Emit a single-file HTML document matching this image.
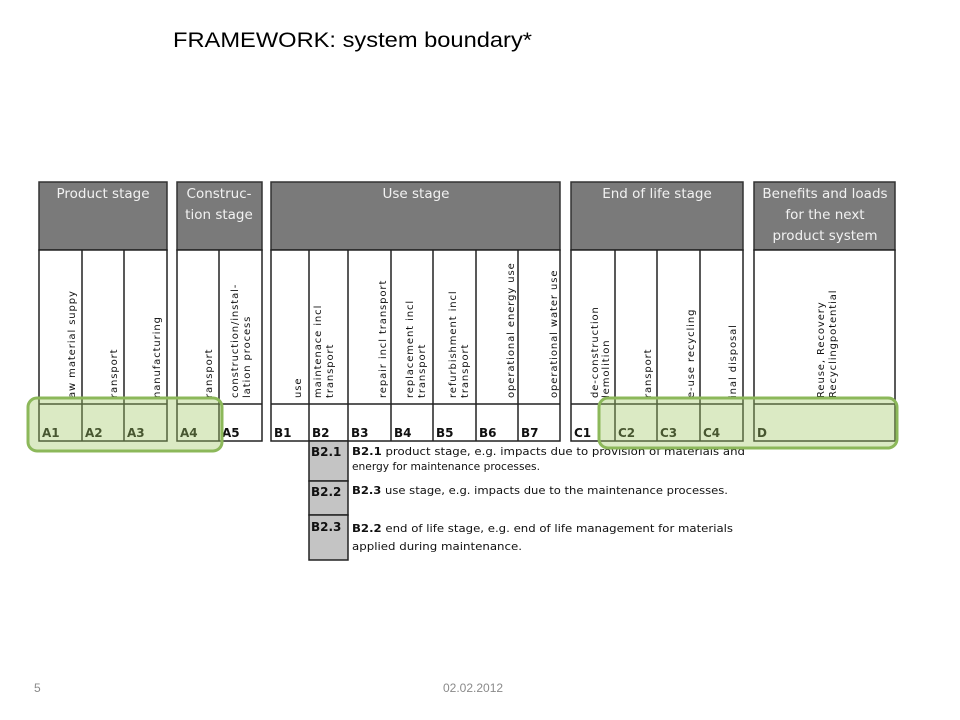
<!DOCTYPE html>
<html><head><meta charset="utf-8"><style>
html,body{margin:0;padding:0;background:#fff;}
svg{display:block;}
.v{font-family:"DejaVu Sans",sans-serif;font-size:10px;letter-spacing:0.9px;fill:#111;}
.c{font-family:"DejaVu Sans",sans-serif;font-size:12px;font-weight:bold;fill:#111;}
.h{font-family:"DejaVu Sans",sans-serif;font-size:13.5px;fill:#f2f2f2;}
.t{font-family:"DejaVu Sans",sans-serif;font-size:11px;fill:#111;}
</style></head><body>
<svg width="960" height="720" viewBox="0 0 960 720" xmlns="http://www.w3.org/2000/svg">
<text x="173" y="47" font-family="Liberation Sans,sans-serif" font-size="21" fill="#000" textLength="359" lengthAdjust="spacingAndGlyphs">FRAMEWORK: system boundary*</text>

<g fill="#7a7a7a" stroke="#333" stroke-width="1.5">
<rect x="39" y="182" width="128" height="68"/>
<rect x="177" y="182" width="85" height="68"/>
<rect x="271" y="182" width="289" height="68"/>
<rect x="571" y="182" width="172" height="68"/>
<rect x="754" y="182" width="141" height="68"/>
</g>
<g fill="#fff" stroke="#222" stroke-width="1.5">
<rect x="39" y="250" width="128" height="191"/>
<rect x="177" y="250" width="85" height="191"/>
<rect x="271" y="250" width="289" height="191"/>
<rect x="571" y="250" width="172" height="191"/>
<rect x="754" y="250" width="141" height="191"/>
</g>
<g stroke="#222" stroke-width="1.5">
<line x1="39" y1="404" x2="167" y2="404"/><line x1="177" y1="404" x2="262" y2="404"/>
<line x1="271" y1="404" x2="560" y2="404"/><line x1="571" y1="404" x2="743" y2="404"/>
<line x1="754" y1="404" x2="895" y2="404"/>
<line x1="82" y1="250" x2="82" y2="441"/><line x1="124" y1="250" x2="124" y2="441"/>
<line x1="219" y1="250" x2="219" y2="441"/>
<line x1="309" y1="250" x2="309" y2="441"/><line x1="348" y1="250" x2="348" y2="441"/>
<line x1="391" y1="250" x2="391" y2="441"/><line x1="433" y1="250" x2="433" y2="441"/>
<line x1="476" y1="250" x2="476" y2="441"/><line x1="518" y1="250" x2="518" y2="441"/>
<line x1="615" y1="250" x2="615" y2="441"/><line x1="657" y1="250" x2="657" y2="441"/>
<line x1="700" y1="250" x2="700" y2="441"/>
</g>

<text class="h" x="103" y="198" text-anchor="middle">Product stage</text>
<text class="h" x="219" y="198" text-anchor="middle">Construc-</text>
<text class="h" x="219" y="219" text-anchor="middle">tion stage</text>
<text class="h" x="416" y="198" text-anchor="middle">Use stage</text>
<text class="h" x="657" y="198" text-anchor="middle">End of life stage</text>
<text class="h" x="825" y="198" text-anchor="middle">Benefits and loads</text>
<text class="h" x="825" y="219" text-anchor="middle">for the next</text>
<text class="h" x="825" y="240" text-anchor="middle">product system</text>

<g class="v">
<text transform="translate(75,398) rotate(-90)">aw  material suppy</text>
<text transform="translate(117,398) rotate(-90)">ransport</text>
<text transform="translate(160,398) rotate(-90)">nanufacturing</text>
<text transform="translate(212,398) rotate(-90)">ransport</text>
<text transform="translate(238,398) rotate(-90)">construction/instal-</text>
<text transform="translate(250,398) rotate(-90)">lation process</text>
<text transform="translate(301,398) rotate(-90)">use</text>
<text transform="translate(321,398) rotate(-90)">maintenace incl</text>
<text transform="translate(333,398) rotate(-90)">transport</text>
<text transform="translate(386,398) rotate(-90)">repair incl transport</text>
<text transform="translate(413,398) rotate(-90)">replacement incl</text>
<text transform="translate(425,398) rotate(-90)">transport</text>
<text transform="translate(456,398) rotate(-90)">refurbishment incl</text>
<text transform="translate(468,398) rotate(-90)">transport</text>
<text transform="translate(514,398) rotate(-90)">operational energy use</text>
<text transform="translate(557,398) rotate(-90)">operational water use</text>
<text transform="translate(598,398) rotate(-90)">de-construction</text>
<text transform="translate(609,398) rotate(-90)">lemolition</text>
<text transform="translate(651,398) rotate(-90)">ransport</text>
<text transform="translate(694,398) rotate(-90)">e-use recycling</text>
<text transform="translate(736,398) rotate(-90)">inal disposal</text>
<text transform="translate(824,398) rotate(-90)">Reuse, Recovery</text>
<text transform="translate(836,398) rotate(-90)">Recyclingpotential</text>
</g>

<g class="c">
<text x="42" y="437">A1</text><text x="85" y="437">A2</text><text x="127" y="437">A3</text>
<text x="180" y="437">A4</text><text x="222" y="437">A5</text>
<text x="274" y="437">B1</text><text x="312" y="437">B2</text><text x="351" y="437">B3</text>
<text x="394" y="437">B4</text><text x="436" y="437">B5</text><text x="479" y="437">B6</text>
<text x="521" y="437">B7</text>
<text x="574" y="437">C1</text><text x="618" y="437">C2</text><text x="660" y="437">C3</text>
<text x="703" y="437">C4</text><text x="757" y="437">D</text>
</g>

<g fill="#c4c4c4" stroke="#222" stroke-width="1.5">
<rect x="309" y="441" width="39" height="40"/>
<rect x="309" y="481" width="39" height="34"/>
<rect x="309" y="515" width="39" height="45"/>
</g>
<g class="c" font-size="13">
<text x="311" y="456">B2.1</text><text x="311" y="496">B2.2</text><text x="311" y="531">B2.3</text>
</g>
<g class="t">
<text x="352" y="455" textLength="393" lengthAdjust="spacingAndGlyphs"><tspan font-weight="bold">B2.1</tspan> product stage, e.g. impacts due to provision of materials and</text>
<text x="352" y="470" textLength="188" lengthAdjust="spacingAndGlyphs">energy for maintenance processes.</text>
<text x="352" y="494" textLength="376" lengthAdjust="spacingAndGlyphs"><tspan font-weight="bold">B2.3</tspan> use stage, e.g. impacts due to the maintenance processes.</text>
<text x="352" y="532" textLength="381" lengthAdjust="spacingAndGlyphs"><tspan font-weight="bold">B2.2</tspan> end of life stage, e.g. end of life management for materials</text>
<text x="352" y="550" textLength="170" lengthAdjust="spacingAndGlyphs">applied during maintenance.</text>
</g>

<rect x="28" y="398" width="194" height="53" rx="9" fill="rgba(160,200,100,0.38)" stroke="#8cb85a" stroke-width="3"/>
<rect x="599" y="398" width="298" height="50" rx="9" fill="rgba(160,200,100,0.38)" stroke="#8cb85a" stroke-width="3"/>

<text x="34" y="692" font-family="Liberation Sans,sans-serif" font-size="12" fill="#8a8a8a">5</text>
<text x="443" y="692" font-family="Liberation Sans,sans-serif" font-size="12" fill="#8a8a8a">02.02.2012</text>
</svg>
</body></html>
